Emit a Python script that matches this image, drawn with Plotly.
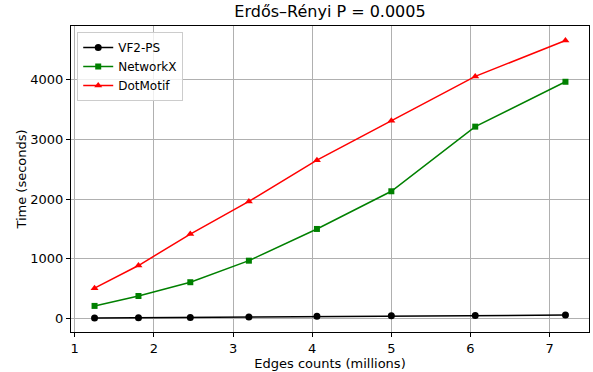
import plotly.graph_objects as go

# Edge counts in millions and runtimes in seconds
edges_millions = [1.25, 1.805, 2.46, 3.20, 4.06, 5.0, 6.06, 7.2]
vf2ps_time = [10, 15, 22, 30, 40, 48, 55, 62]
networkx_time = [214, 380, 610, 970, 1500, 2130, 3210, 3960]
dotmotif_time = [510, 889, 1415, 1960, 2650, 3310, 4050, 4650]

x_ticks = [1, 2, 3, 4, 5, 6, 7]
y_ticks = [0, 1000, 2000, 3000, 4000]

FONT = "DejaVu Sans"

fig = go.Figure()
series = [
    ("VF2-PS", vf2ps_time, "black", "circle", 7),
    ("NetworkX", networkx_time, "green", "square", 6),
    ("DotMotif", dotmotif_time, "red", "triangle-up", 7),
]
for name, ys, color, symbol, size in series:
    fig.add_trace(go.Scatter(
        x=edges_millions, y=ys, name=name, mode="lines+markers",
        line=dict(color=color, width=1.5),
        marker=dict(symbol=symbol, size=size, color=color),
    ))

axis_common = dict(
    showline=True, linecolor="black", linewidth=1, mirror=True,
    showgrid=True, gridcolor="#b0b0b0", gridwidth=1,
    ticks="outside", ticklen=4, tickcolor="black",
    tickfont=dict(family=FONT, size=13, color="black"),
    zeroline=False,
)

fig.update_layout(
    width=593, height=372,
    margin=dict(l=71, r=3, t=26, b=36),
    paper_bgcolor="white", plot_bgcolor="white",
    title=dict(text="Erdős–Rényi P = 0.0005", x=0.5, xanchor="center",
               xref="paper", y=0.985, yanchor="top",
               font=dict(family=FONT, size=16, color="black")),
    xaxis=dict(range=[0.9525, 7.4975], tickvals=x_ticks,
               title=dict(text="Edges counts (millions)", standoff=4,
                          font=dict(family=FONT, size=13, color="black")),
               **axis_common),
    yaxis=dict(range=[-222, 4892], tickvals=y_ticks,
               title=dict(text="Time (seconds)", standoff=0,
                          font=dict(family=FONT, size=13, color="black")),
               **axis_common),
    legend=dict(x=0.012, y=0.98, xanchor="left", yanchor="top",
                bgcolor="rgba(255,255,255,0.8)", bordercolor="#cccccc",
                borderwidth=1, font=dict(family=FONT, size=12, color="black"),
                tracegroupgap=0, itemwidth=30),
    showlegend=True,
)

fig.write_html("out.html")
